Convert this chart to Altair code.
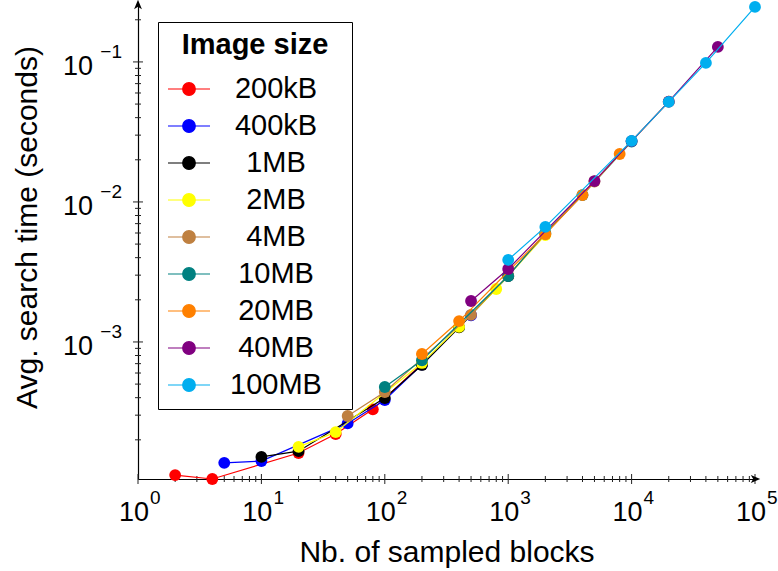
import altair as alt
import pandas as pd

FONT = "Liberation Sans"

# ---------------- data ----------------
sizes = ["200kB", "400kB", "1MB", "2MB", "4MB", "10MB", "20MB", "40MB", "100MB"]
colors = ["#ff0000", "#0000ff", "#000000", "#ffff00", "#bf8040",
          "#008080", "#ff8000", "#800080", "#00aeef"]

b_200kB = [2, 4, 20, 40, 80, 200]
t_200kB = [1.12e-4, 1.05e-4, 1.61e-4, 2.20e-4, 3.30e-4, 7.00e-4]
b_400kB = [5, 10, 50, 100, 200, 500]
t_400kB = [1.37e-4, 1.41e-4, 2.62e-4, 3.85e-4, 6.90e-4, 1.55e-3]
b_1MB = [10, 20, 100, 200, 400, 1000]
t_1MB = [1.51e-4, 1.66e-4, 3.98e-4, 6.85e-4, 1.27e-3, 2.95e-3]
b_2MB = [20, 40, 200, 400, 800, 2000]
t_2MB = [1.78e-4, 2.27e-4, 7.08e-4, 1.28e-3, 2.39e-3, 5.80e-3]
b_4MB = [50, 100, 500, 1000, 2000, 5000]
t_4MB = [2.96e-4, 4.39e-4, 1.56e-3, 3.00e-3, 5.90e-3, 1.40e-2]
b_10MB = [100, 200, 1000, 2000, 4000, 10000]
t_10MB = [4.77e-4, 7.40e-4, 2.96e-3, 6.00e-3, 1.12e-2, 2.70e-2]
b_20MB = [200, 400, 2000, 4000, 8000, 20000]
t_20MB = [8.20e-4, 1.41e-3, 5.90e-3, 1.12e-2, 2.20e-2, 5.20e-2]
b_40MB = [500, 1000, 5000, 10000, 20000, 50000]
t_40MB = [1.96e-3, 3.32e-3, 1.41e-2, 2.72e-2, 5.20e-2, 1.28e-1]
b_100MB = [1000, 2000, 10000, 20000, 40000, 100000]
t_100MB = [3.86e-3, 6.63e-3, 2.73e-2, 5.18e-2, 9.84e-2, 2.47e-1]

series = [
    ("200kB", b_200kB, t_200kB), ("400kB", b_400kB, t_400kB),
    ("1MB", b_1MB, t_1MB), ("2MB", b_2MB, t_2MB), ("4MB", b_4MB, t_4MB),
    ("10MB", b_10MB, t_10MB), ("20MB", b_20MB, t_20MB),
    ("40MB", b_40MB, t_40MB), ("100MB", b_100MB, t_100MB),
]

x_major = [1, 10, 100, 1000, 10000, 100000]
x_exp = ["0", "1", "2", "3", "4", "5"]
x_minor = [k * 10 ** e for e in range(0, 5) for k in range(2, 10)]
y_major = [1e-3, 1e-2, 1e-1]
y_exp = ["\u22123", "\u22122", "\u22121"]
y_minor = [k * 10.0 ** e for e in range(-4, 0) for k in range(2, 10) if k * 10.0 ** e < 0.25]

XMIN, XMAX = 1, 1e5
YMIN, YMAX = 1.05e-4, 0.255

rows = []
for name, bs, ts in series:
    for b, t in zip(bs, ts):
        rows.append({"image": name, "blocks": b, "time": t})
df = pd.DataFrame(rows)

# ---------------- scales / axes ----------------
XT = "Nb. of sampled blocks"
YT = "Avg. search time (seconds)"
xs = alt.Scale(type="log", domain=[XMIN, XMAX], nice=False)
ys = alt.Scale(type="log", domain=[YMIN, YMAX], nice=False)
xaxis = alt.Axis(title=XT, ticks=False, labels=False, grid=False,
                 domainColor="black", domainWidth=1.2,
                 titleX=308.5, titleY=82, titleAlign="center",
                 titleBaseline="alphabetic", titleFont=FONT, titleFontSize=30,
                 titleFontWeight="normal", titleColor="black")
yaxis = alt.Axis(title=YT, ticks=False, labels=False, grid=False,
                 domainColor="black", domainWidth=1.2,
                 titleX=-102, titleY=222, titleAlign="center", titleAngle=270,
                 titleBaseline="alphabetic", titleFont=FONT, titleFontSize=30,
                 titleFontWeight="normal", titleColor="black")

SYM = "M-1,0L1,0M0.3,0A0.3,0.3,0,1,1,-0.3,0A0.3,0.3,0,1,1,0.3,0Z"
legend = alt.Legend(
    title="Image size", orient="none", legendX=20, legendY=17,
    symbolType=SYM, symbolSize=1764, symbolStrokeWidth=1.2, symbolOpacity=1,
    labelFont="Liberation Sans, DejaVu Sans Mono", labelFontSize=29,
    labelAlign="center", labelOffset=65,
    labelColor="black", labelLimit=0,
    labelExpr="'\u2800' + datum.label + '\u2800'",
    titleFont=FONT, titleFontSize=29, titleFontWeight="bold", titleColor="black",
    titleAnchor="middle", titlePadding=7, padding=9, rowPadding=0,
    strokeColor="black", fillColor="white", cornerRadius=0,
)
color_enc = alt.Color("image:N", scale=alt.Scale(domain=sizes, range=colors),
                      legend=legend, sort=sizes)

X = alt.X("blocks:Q", scale=xs, axis=xaxis)
Y = alt.Y("time:Q", scale=ys, axis=yaxis)

layers = []
for name in sizes:
    base = alt.Chart(df).transform_filter(alt.datum.image == name).encode(
        x=X, y=Y, color=color_enc)
    layers.append(base.mark_line(strokeWidth=1.2))
    layers.append(base.mark_point(filled=True, size=140, opacity=1, strokeWidth=0))

# ---------------- ticks ----------------
def xticks(vals, size):
    return alt.Chart(pd.DataFrame({"v": vals})).mark_tick(
        orient="vertical", size=size, thickness=1, color="#222", opacity=1
    ).encode(x=alt.X("v:Q", scale=xs, axis=xaxis),
             y=alt.YDatum(YMIN, scale=ys, axis=yaxis, type="quantitative"))

def yticks(vals, size):
    return alt.Chart(pd.DataFrame({"v": vals})).mark_tick(
        orient="horizontal", size=size, thickness=1, color="#222", opacity=1
    ).encode(y=alt.Y("v:Q", scale=ys, axis=yaxis),
             x=alt.XDatum(XMIN, scale=xs, axis=xaxis, type="quantitative"))

tick_layers = [xticks(x_minor, 6), xticks(x_major, 10),
               yticks(y_minor, 6), yticks(y_major, 10)]

# ---------------- tick labels (10 + superscript) ----------------
xl = pd.DataFrame({"v": x_major, "e": x_exp, "b": ["10"] * len(x_major)})
yl = pd.DataFrame({"v": y_major, "e": y_exp, "b": ["10"] * len(y_major)})
x_base = alt.Chart(xl).mark_text(font=FONT, fontSize=27, align="right",
                                 baseline="alphabetic", dx=11, dy=42, color="black").encode(
    x=alt.X("v:Q", scale=xs, axis=xaxis),
    y=alt.YDatum(YMIN, scale=ys, axis=yaxis, type="quantitative"), text="b:N")
x_sup = alt.Chart(xl).mark_text(font=FONT, fontSize=19, align="left",
                                baseline="alphabetic", dx=12, dy=25, color="black").encode(
    x=alt.X("v:Q", scale=xs, axis=xaxis),
    y=alt.YDatum(YMIN, scale=ys, axis=yaxis, type="quantitative"), text="e:N")
y_base = alt.Chart(yl).mark_text(font=FONT, fontSize=27, align="right",
                                 baseline="alphabetic", dx=-45, dy=13, color="black").encode(
    y=alt.Y("v:Q", scale=ys, axis=yaxis),
    x=alt.XDatum(XMIN, scale=xs, axis=xaxis, type="quantitative"), text="b:N")
y_sup = alt.Chart(yl).mark_text(font=FONT, fontSize=19, align="right",
                                baseline="alphabetic", dx=-16, dy=-4, color="black").encode(
    y=alt.Y("v:Q", scale=ys, axis=yaxis),
    x=alt.XDatum(XMIN, scale=xs, axis=xaxis, type="quantitative"), text="e:N")

# ---------------- axis arrows ----------------
ARROW = "M0,-1L0.75,0.8L0,0.35L-0.75,0.8Z"
one = pd.DataFrame({"a": [0]})
arrow_x = alt.Chart(one).mark_point(shape=ARROW, filled=True, size=110, color="black",
                                    opacity=1, angle=90, strokeWidth=0).encode(
    x=alt.XDatum(XMAX, scale=xs, axis=xaxis, type="quantitative"),
    y=alt.YDatum(YMIN, scale=ys, axis=yaxis, type="quantitative"))
arrow_y = alt.Chart(one).mark_point(shape=ARROW, filled=True, size=110, color="black",
                                    opacity=1, strokeWidth=0).encode(
    x=alt.XDatum(XMIN, scale=xs, axis=xaxis, type="quantitative"),
    y=alt.YDatum(YMAX, scale=ys, axis=yaxis, type="quantitative"))

chart = alt.layer(
    *tick_layers, x_base, x_sup, y_base, y_sup, *layers, arrow_x, arrow_y
).properties(
    width=617, height=474,
    padding={"left": 138, "top": 5, "right": 23, "bottom": 92},
    autosize=alt.AutoSizeParams(type="none"),
).configure_view(stroke=None)

chart.save("out.html", embed_options={"renderer": "svg", "actions": False})
